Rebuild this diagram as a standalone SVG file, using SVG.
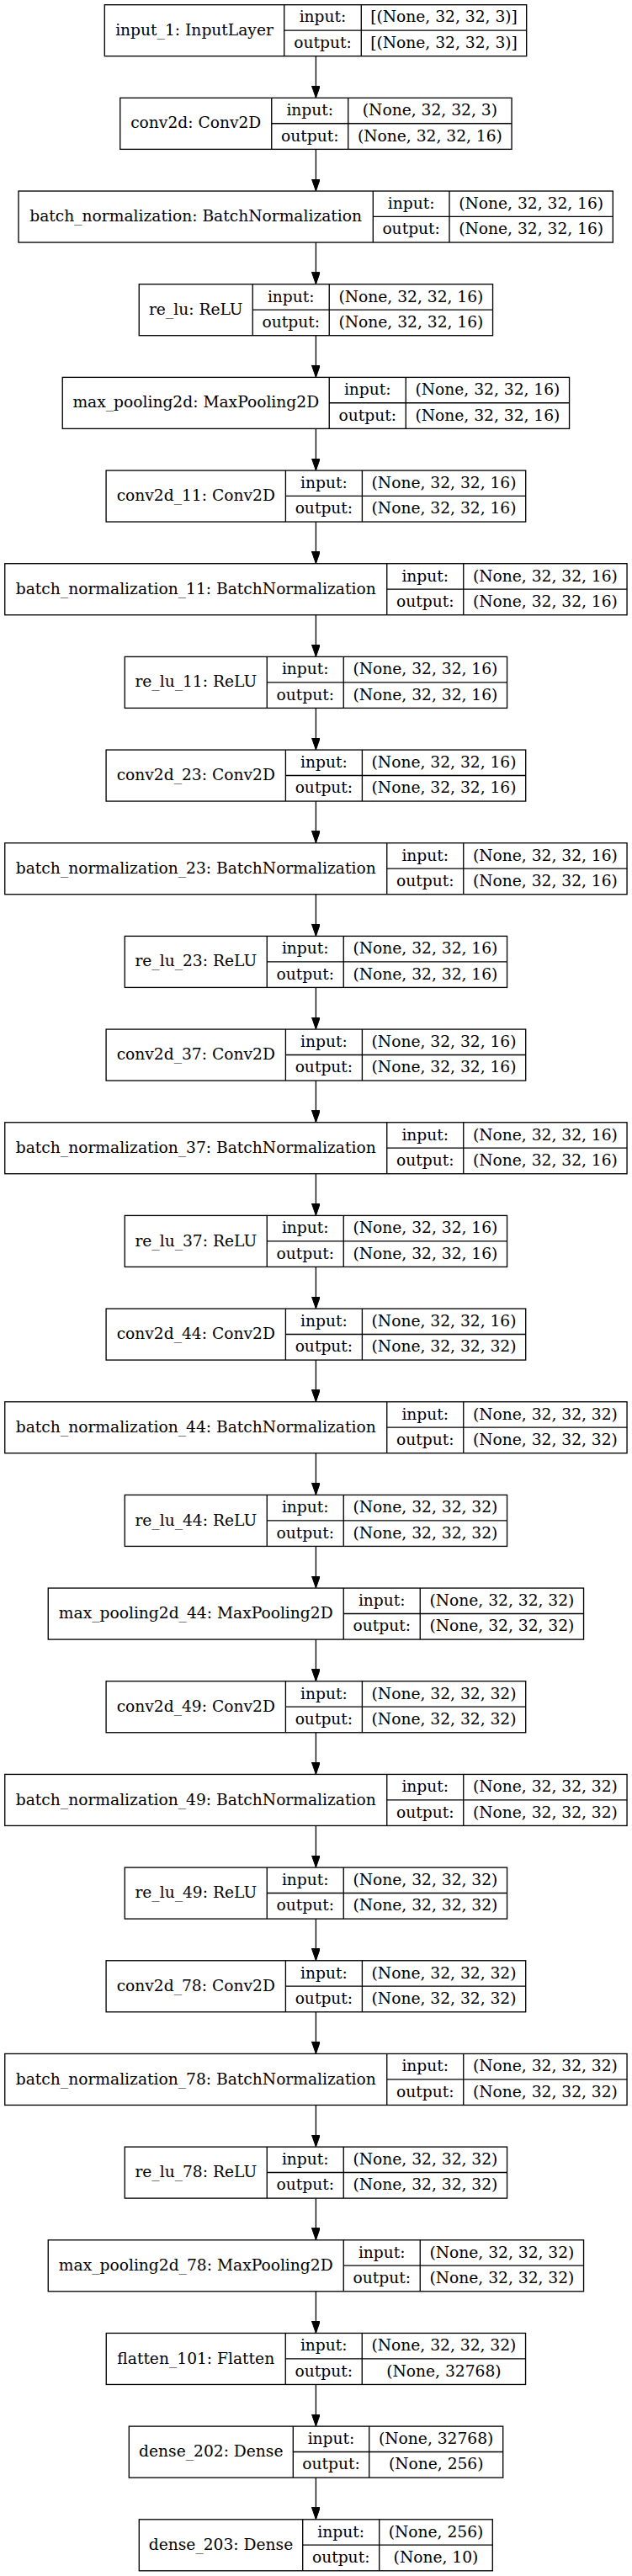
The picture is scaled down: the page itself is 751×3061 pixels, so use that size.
<svg xmlns="http://www.w3.org/2000/svg" width="751" height="3061" viewBox="0 0 751 3061">
<style>
.b{fill:#fff;stroke:#000;stroke-width:1.33}
.s{stroke:#000;stroke-width:1.33;fill:none}
text{font-family:"DejaVu Serif","Liberation Serif",serif;font-size:18.67px;fill:#000;text-anchor:middle}
.e{stroke:#000;stroke-width:1.33;fill:none;marker-end:url(#ah)}
</style>
<defs>
<marker id="ah" markerUnits="userSpaceOnUse" markerWidth="15" markerHeight="10" refX="14.5" refY="5" orient="auto">
<path d="M0,0 L14.5,5 L0,10 z" fill="#000" stroke="#000" stroke-width="1"/>
</marker>
</defs>
<rect width="751" height="3061" fill="#fff"/>
<g id="connectors">
<path class="e" d="M375.4,66.7 V116.37"/>
<path class="e" d="M375.4,177.37 V227.04"/>
<path class="e" d="M375.4,288.04 V337.71"/>
<path class="e" d="M375.4,398.71 V448.38"/>
<path class="e" d="M375.4,509.38 V559.05"/>
<path class="e" d="M375.4,620.05 V669.72"/>
<path class="e" d="M375.4,730.72 V780.39"/>
<path class="e" d="M375.4,841.39 V891.06"/>
<path class="e" d="M375.4,952.06 V1001.73"/>
<path class="e" d="M375.4,1062.73 V1112.4"/>
<path class="e" d="M375.4,1173.4 V1223.07"/>
<path class="e" d="M375.4,1284.07 V1333.74"/>
<path class="e" d="M375.4,1394.74 V1444.41"/>
<path class="e" d="M375.4,1505.41 V1555.08"/>
<path class="e" d="M375.4,1616.08 V1665.75"/>
<path class="e" d="M375.4,1726.75 V1776.42"/>
<path class="e" d="M375.4,1837.42 V1887.09"/>
<path class="e" d="M375.4,1948.09 V1997.76"/>
<path class="e" d="M375.4,2058.76 V2108.43"/>
<path class="e" d="M375.4,2169.43 V2219.1"/>
<path class="e" d="M375.4,2280.1 V2329.77"/>
<path class="e" d="M375.4,2390.77 V2440.44"/>
<path class="e" d="M375.4,2501.44 V2551.11"/>
<path class="e" d="M375.4,2612.11 V2661.78"/>
<path class="e" d="M375.4,2722.78 V2772.45"/>
<path class="e" d="M375.4,2833.45 V2883.12"/>
<path class="e" d="M375.4,2944.12 V2993.79"/>
</g>

<g id="input_1" transform="translate(0,5.7)">
<rect class="b" x="124.3" y="0" width="501.4" height="61"/>
<path class="s" d="M337.7,0 V61 M429.3,0 V61 M337.7,30.4 H625.7"/>
<text x="231" y="36.1">input_1: InputLayer</text>
<text x="383.5" y="20.8">input:</text><text x="383.5" y="51.2">output:</text>
<text x="527.5" y="20.8">[(None, 32, 32, 3)]</text><text x="527.5" y="51.2">[(None, 32, 32, 3)]</text>
</g>

<g id="conv2d" transform="translate(0,116.37)">
<rect class="b" x="142.75" y="0" width="465.3" height="61"/>
<path class="s" d="M322.75,0 V61 M413.75,0 V61 M322.75,30.4 H608.05"/>
<text x="232.75" y="36.1">conv2d: Conv2D</text>
<text x="368.25" y="20.8">input:</text><text x="368.25" y="51.2">output:</text>
<text x="510.9" y="20.8">(None, 32, 32, 3)</text><text x="510.9" y="51.2">(None, 32, 32, 16)</text>
</g>

<g id="batch_normalization" transform="translate(0,227.04)">
<rect class="b" x="22" y="0" width="706.3" height="61"/>
<path class="s" d="M443.3,0 V61 M534,0 V61 M443.3,30.4 H728.3"/>
<text x="232.65" y="36.1">batch_normalization: BatchNormalization</text>
<text x="488.65" y="20.8">input:</text><text x="488.65" y="51.2">output:</text>
<text x="631.15" y="20.8">(None, 32, 32, 16)</text><text x="631.15" y="51.2">(None, 32, 32, 16)</text>
</g>

<g id="re_lu" transform="translate(0,337.71)">
<rect class="b" x="165.25" y="0" width="420.3" height="61"/>
<path class="s" d="M300.25,0 V61 M391.25,0 V61 M300.25,30.4 H585.55"/>
<text x="232.75" y="36.1">re_lu: ReLU</text>
<text x="345.75" y="20.8">input:</text><text x="345.75" y="51.2">output:</text>
<text x="488.4" y="20.8">(None, 32, 32, 16)</text><text x="488.4" y="51.2">(None, 32, 32, 16)</text>
</g>

<g id="max_pooling2d" transform="translate(0,448.38)">
<rect class="b" x="74.25" y="0" width="602.3" height="61"/>
<path class="s" d="M391.25,0 V61 M482.25,0 V61 M391.25,30.4 H676.55"/>
<text x="232.75" y="36.1">max_pooling2d: MaxPooling2D</text>
<text x="436.75" y="20.8">input:</text><text x="436.75" y="51.2">output:</text>
<text x="579.4" y="20.8">(None, 32, 32, 16)</text><text x="579.4" y="51.2">(None, 32, 32, 16)</text>
</g>

<g id="conv2d_11" transform="translate(0,559.05)">
<rect class="b" x="126.1" y="0" width="498.6" height="61"/>
<path class="s" d="M339.4,0 V61 M430.4,0 V61 M339.4,30.4 H624.7"/>
<text x="232.75" y="36.1">conv2d_11: Conv2D</text>
<text x="384.9" y="20.8">input:</text><text x="384.9" y="51.2">output:</text>
<text x="527.55" y="20.8">(None, 32, 32, 16)</text><text x="527.55" y="51.2">(None, 32, 32, 16)</text>
</g>

<g id="batch_normalization_11" transform="translate(0,669.72)">
<rect class="b" x="5.75" y="0" width="739.3" height="61"/>
<path class="s" d="M459.75,0 V61 M550.75,0 V61 M459.75,30.4 H745.05"/>
<text x="232.75" y="36.1">batch_normalization_11: BatchNormalization</text>
<text x="505.25" y="20.8">input:</text><text x="505.25" y="51.2">output:</text>
<text x="647.9" y="20.8">(None, 32, 32, 16)</text><text x="647.9" y="51.2">(None, 32, 32, 16)</text>
</g>

<g id="re_lu_11" transform="translate(0,780.39)">
<rect class="b" x="148.25" y="0" width="454.3" height="61"/>
<path class="s" d="M317.25,0 V61 M408.25,0 V61 M317.25,30.4 H602.55"/>
<text x="232.75" y="36.1">re_lu_11: ReLU</text>
<text x="362.75" y="20.8">input:</text><text x="362.75" y="51.2">output:</text>
<text x="505.4" y="20.8">(None, 32, 32, 16)</text><text x="505.4" y="51.2">(None, 32, 32, 16)</text>
</g>

<g id="conv2d_23" transform="translate(0,891.06)">
<rect class="b" x="126.1" y="0" width="498.6" height="61"/>
<path class="s" d="M339.4,0 V61 M430.4,0 V61 M339.4,30.4 H624.7"/>
<text x="232.75" y="36.1">conv2d_23: Conv2D</text>
<text x="384.9" y="20.8">input:</text><text x="384.9" y="51.2">output:</text>
<text x="527.55" y="20.8">(None, 32, 32, 16)</text><text x="527.55" y="51.2">(None, 32, 32, 16)</text>
</g>

<g id="batch_normalization_23" transform="translate(0,1001.73)">
<rect class="b" x="5.75" y="0" width="739.3" height="61"/>
<path class="s" d="M459.75,0 V61 M550.75,0 V61 M459.75,30.4 H745.05"/>
<text x="232.75" y="36.1">batch_normalization_23: BatchNormalization</text>
<text x="505.25" y="20.8">input:</text><text x="505.25" y="51.2">output:</text>
<text x="647.9" y="20.8">(None, 32, 32, 16)</text><text x="647.9" y="51.2">(None, 32, 32, 16)</text>
</g>

<g id="re_lu_23" transform="translate(0,1112.4)">
<rect class="b" x="148.25" y="0" width="454.3" height="61"/>
<path class="s" d="M317.25,0 V61 M408.25,0 V61 M317.25,30.4 H602.55"/>
<text x="232.75" y="36.1">re_lu_23: ReLU</text>
<text x="362.75" y="20.8">input:</text><text x="362.75" y="51.2">output:</text>
<text x="505.4" y="20.8">(None, 32, 32, 16)</text><text x="505.4" y="51.2">(None, 32, 32, 16)</text>
</g>

<g id="conv2d_37" transform="translate(0,1223.07)">
<rect class="b" x="126.1" y="0" width="498.6" height="61"/>
<path class="s" d="M339.4,0 V61 M430.4,0 V61 M339.4,30.4 H624.7"/>
<text x="232.75" y="36.1">conv2d_37: Conv2D</text>
<text x="384.9" y="20.8">input:</text><text x="384.9" y="51.2">output:</text>
<text x="527.55" y="20.8">(None, 32, 32, 16)</text><text x="527.55" y="51.2">(None, 32, 32, 16)</text>
</g>

<g id="batch_normalization_37" transform="translate(0,1333.74)">
<rect class="b" x="5.75" y="0" width="739.3" height="61"/>
<path class="s" d="M459.75,0 V61 M550.75,0 V61 M459.75,30.4 H745.05"/>
<text x="232.75" y="36.1">batch_normalization_37: BatchNormalization</text>
<text x="505.25" y="20.8">input:</text><text x="505.25" y="51.2">output:</text>
<text x="647.9" y="20.8">(None, 32, 32, 16)</text><text x="647.9" y="51.2">(None, 32, 32, 16)</text>
</g>

<g id="re_lu_37" transform="translate(0,1444.41)">
<rect class="b" x="148.25" y="0" width="454.3" height="61"/>
<path class="s" d="M317.25,0 V61 M408.25,0 V61 M317.25,30.4 H602.55"/>
<text x="232.75" y="36.1">re_lu_37: ReLU</text>
<text x="362.75" y="20.8">input:</text><text x="362.75" y="51.2">output:</text>
<text x="505.4" y="20.8">(None, 32, 32, 16)</text><text x="505.4" y="51.2">(None, 32, 32, 16)</text>
</g>

<g id="conv2d_44" transform="translate(0,1555.08)">
<rect class="b" x="126.1" y="0" width="498.6" height="61"/>
<path class="s" d="M339.4,0 V61 M430.4,0 V61 M339.4,30.4 H624.7"/>
<text x="232.75" y="36.1">conv2d_44: Conv2D</text>
<text x="384.9" y="20.8">input:</text><text x="384.9" y="51.2">output:</text>
<text x="527.55" y="20.8">(None, 32, 32, 16)</text><text x="527.55" y="51.2">(None, 32, 32, 32)</text>
</g>

<g id="batch_normalization_44" transform="translate(0,1665.75)">
<rect class="b" x="5.75" y="0" width="739.3" height="61"/>
<path class="s" d="M459.75,0 V61 M550.75,0 V61 M459.75,30.4 H745.05"/>
<text x="232.75" y="36.1">batch_normalization_44: BatchNormalization</text>
<text x="505.25" y="20.8">input:</text><text x="505.25" y="51.2">output:</text>
<text x="647.9" y="20.8">(None, 32, 32, 32)</text><text x="647.9" y="51.2">(None, 32, 32, 32)</text>
</g>

<g id="re_lu_44" transform="translate(0,1776.42)">
<rect class="b" x="148.25" y="0" width="454.3" height="61"/>
<path class="s" d="M317.25,0 V61 M408.25,0 V61 M317.25,30.4 H602.55"/>
<text x="232.75" y="36.1">re_lu_44: ReLU</text>
<text x="362.75" y="20.8">input:</text><text x="362.75" y="51.2">output:</text>
<text x="505.4" y="20.8">(None, 32, 32, 32)</text><text x="505.4" y="51.2">(None, 32, 32, 32)</text>
</g>

<g id="max_pooling2d_44" transform="translate(0,1887.09)">
<rect class="b" x="57.25" y="0" width="636.3" height="61"/>
<path class="s" d="M408.25,0 V61 M499.25,0 V61 M408.25,30.4 H693.55"/>
<text x="232.75" y="36.1">max_pooling2d_44: MaxPooling2D</text>
<text x="453.75" y="20.8">input:</text><text x="453.75" y="51.2">output:</text>
<text x="596.4" y="20.8">(None, 32, 32, 32)</text><text x="596.4" y="51.2">(None, 32, 32, 32)</text>
</g>

<g id="conv2d_49" transform="translate(0,1997.76)">
<rect class="b" x="126.1" y="0" width="498.6" height="61"/>
<path class="s" d="M339.4,0 V61 M430.4,0 V61 M339.4,30.4 H624.7"/>
<text x="232.75" y="36.1">conv2d_49: Conv2D</text>
<text x="384.9" y="20.8">input:</text><text x="384.9" y="51.2">output:</text>
<text x="527.55" y="20.8">(None, 32, 32, 32)</text><text x="527.55" y="51.2">(None, 32, 32, 32)</text>
</g>

<g id="batch_normalization_49" transform="translate(0,2108.43)">
<rect class="b" x="5.75" y="0" width="739.3" height="61"/>
<path class="s" d="M459.75,0 V61 M550.75,0 V61 M459.75,30.4 H745.05"/>
<text x="232.75" y="36.1">batch_normalization_49: BatchNormalization</text>
<text x="505.25" y="20.8">input:</text><text x="505.25" y="51.2">output:</text>
<text x="647.9" y="20.8">(None, 32, 32, 32)</text><text x="647.9" y="51.2">(None, 32, 32, 32)</text>
</g>

<g id="re_lu_49" transform="translate(0,2219.1)">
<rect class="b" x="148.25" y="0" width="454.3" height="61"/>
<path class="s" d="M317.25,0 V61 M408.25,0 V61 M317.25,30.4 H602.55"/>
<text x="232.75" y="36.1">re_lu_49: ReLU</text>
<text x="362.75" y="20.8">input:</text><text x="362.75" y="51.2">output:</text>
<text x="505.4" y="20.8">(None, 32, 32, 32)</text><text x="505.4" y="51.2">(None, 32, 32, 32)</text>
</g>

<g id="conv2d_78" transform="translate(0,2329.77)">
<rect class="b" x="126.1" y="0" width="498.6" height="61"/>
<path class="s" d="M339.4,0 V61 M430.4,0 V61 M339.4,30.4 H624.7"/>
<text x="232.75" y="36.1">conv2d_78: Conv2D</text>
<text x="384.9" y="20.8">input:</text><text x="384.9" y="51.2">output:</text>
<text x="527.55" y="20.8">(None, 32, 32, 32)</text><text x="527.55" y="51.2">(None, 32, 32, 32)</text>
</g>

<g id="batch_normalization_78" transform="translate(0,2440.44)">
<rect class="b" x="5.75" y="0" width="739.3" height="61"/>
<path class="s" d="M459.75,0 V61 M550.75,0 V61 M459.75,30.4 H745.05"/>
<text x="232.75" y="36.1">batch_normalization_78: BatchNormalization</text>
<text x="505.25" y="20.8">input:</text><text x="505.25" y="51.2">output:</text>
<text x="647.9" y="20.8">(None, 32, 32, 32)</text><text x="647.9" y="51.2">(None, 32, 32, 32)</text>
</g>

<g id="re_lu_78" transform="translate(0,2551.11)">
<rect class="b" x="148.25" y="0" width="454.3" height="61"/>
<path class="s" d="M317.25,0 V61 M408.25,0 V61 M317.25,30.4 H602.55"/>
<text x="232.75" y="36.1">re_lu_78: ReLU</text>
<text x="362.75" y="20.8">input:</text><text x="362.75" y="51.2">output:</text>
<text x="505.4" y="20.8">(None, 32, 32, 32)</text><text x="505.4" y="51.2">(None, 32, 32, 32)</text>
</g>

<g id="max_pooling2d_78" transform="translate(0,2661.78)">
<rect class="b" x="57.25" y="0" width="636.3" height="61"/>
<path class="s" d="M408.25,0 V61 M499.25,0 V61 M408.25,30.4 H693.55"/>
<text x="232.75" y="36.1">max_pooling2d_78: MaxPooling2D</text>
<text x="453.75" y="20.8">input:</text><text x="453.75" y="51.2">output:</text>
<text x="596.4" y="20.8">(None, 32, 32, 32)</text><text x="596.4" y="51.2">(None, 32, 32, 32)</text>
</g>

<g id="flatten_101" transform="translate(0,2772.45)">
<rect class="b" x="126.25" y="0" width="498.3" height="61"/>
<path class="s" d="M339.25,0 V61 M430.25,0 V61 M339.25,30.4 H624.55"/>
<text x="232.75" y="36.1">flatten_101: Flatten</text>
<text x="384.75" y="20.8">input:</text><text x="384.75" y="51.2">output:</text>
<text x="527.4" y="20.8">(None, 32, 32, 32)</text><text x="527.4" y="51.2">(None, 32768)</text>
</g>

<g id="dense_202" transform="translate(0,2883.12)">
<rect class="b" x="153.3" y="0" width="444.4" height="61"/>
<path class="s" d="M348.3,0 V61 M438.7,0 V61 M348.3,30.4 H597.7"/>
<text x="250.8" y="36.1">dense_202: Dense</text>
<text x="393.5" y="20.8">input:</text><text x="393.5" y="51.2">output:</text>
<text x="518.2" y="20.8">(None, 32768)</text><text x="518.2" y="51.2">(None, 256)</text>
</g>

<g id="dense_203" transform="translate(0,2993.79)">
<rect class="b" x="165.3" y="0" width="420" height="61"/>
<path class="s" d="M359.7,0 V61 M450.7,0 V61 M359.7,30.4 H585.3"/>
<text x="262.5" y="36.1">dense_203: Dense</text>
<text x="405.2" y="20.8">input:</text><text x="405.2" y="51.2">output:</text>
<text x="518" y="20.8">(None, 256)</text><text x="518" y="51.2">(None, 10)</text>
</g>
</svg>
